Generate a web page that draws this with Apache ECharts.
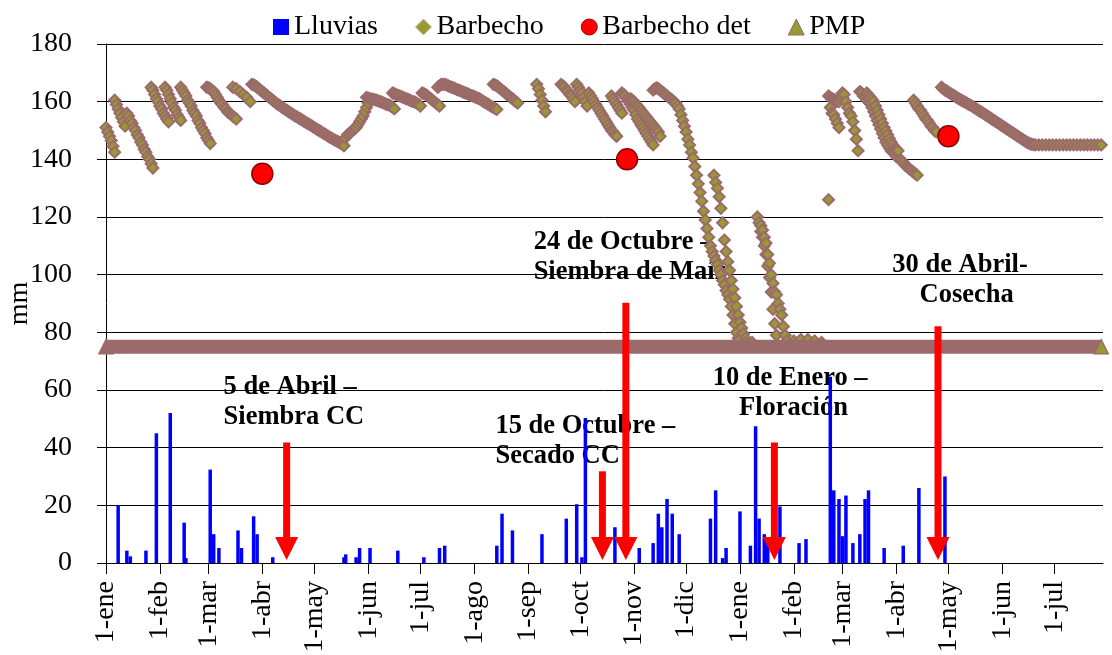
<!DOCTYPE html>
<html>
<head>
<meta charset="utf-8">
<title>Barbecho</title>
<script src="https://cdn.jsdelivr.net/npm/echarts@6/dist/echarts.min.js"></script>
<style>
  html, body { margin: 0; padding: 0; background: #fff; }
  #chart { width: 1112px; height: 655px; }
</style>
</head>
<body>
<div id="chart"></div>
<script>
// eje x: días contados desde el 1-ene del primer año (años no bisiestos)
const inicioMes = [0, 31, 59, 90, 120, 151, 181, 212, 243, 273, 304, 334, 365, 396, 424, 455, 485, 516, 546]
const etiquetaMes = ['1-ene', '1-feb', '1-mar', '1-abr', '1-may', '1-jun', '1-jul', '1-ago', '1-sep', '1-oct',
  '1-nov', '1-dic', '1-ene', '1-feb', '1-mar', '1-abr', '1-may', '1-jun', '1-jul']
const diaFinal = 574

// lluvias diarias [día, mm]
const lluvias = [
  [7, 20], [12, 4.3], [14, 2.3], [23, 4.3], [29, 45], [37, 52], [45, 14], [46, 1.7], [60, 32.4], [62, 10],
  [65, 5.2], [76, 11.3], [78, 5.2], [85, 16.2], [87, 10], [96, 2], [137, 2], [138, 3], [144, 2], [146, 5.2],
  [152, 5.2], [168, 4.3], [183, 2], [192, 5.2], [195, 6], [225, 6], [228, 17.1], [234, 11.3], [251, 10],
  [265, 15.4], [271, 20.4], [274, 2], [276, 50.3], [293, 12.4], [307, 5.2], [315, 6.9], [318, 17.1], [320, 12.4],
  [323, 22.2], [326, 17.1], [330, 10], [348, 15.4], [351, 25.2], [355, 1.7], [357, 5.2], [365, 17.9], [371, 6],
  [374, 47.4], [376, 15.4], [379, 10], [381, 7], [388, 19.6], [399, 6.9], [403, 8.3], [417, 64.6], [419, 25.2],
  [422, 22.2], [424, 9.3], [426, 23.4], [430, 6.9], [434, 10], [437, 22.2], [439, 25.2], [448, 5.2], [459, 6],
  [468, 26], [483, 30]
]

// agua en el perfil, barbecho, primer año [día, mm]
const barbechoAnio1 = [
  [0, 151], [1, 149.5], [2, 148], [3, 146.5], [4, 144.5], [5, 142.5],
  [5, 160.5], [6, 159], [7, 157.5], [8, 156], [9, 154.5], [10, 153], [11, 151.5],
  [12, 156], [13, 155], [14, 153.5], [15, 152.5], [16, 151], [17, 150], [18, 148.5], [19, 147.5], [20, 146],
  [21, 145], [22, 143.5], [23, 142.5], [24, 141], [25, 140], [26, 138.5], [27, 137],
  [26, 165], [27, 164], [28, 162.5], [29, 161], [30, 160], [31, 158.5], [32, 157.5], [33, 156], [34, 155], [35, 154], [36, 153],
  [34, 165], [35, 164], [36, 162.5], [37, 161], [38, 159.5], [39, 158], [40, 157], [41, 155.5], [42, 154.5], [43, 153.5],
  [43, 165], [44, 164], [45, 163], [46, 162], [47, 160.5], [48, 159.5], [49, 158.5], [50, 157], [51, 156], [52, 155],
  [53, 153.5], [54, 152.5], [55, 151], [56, 150], [57, 149], [58, 147.5], [59, 146.5], [60, 145.5],
  [58, 165], [59, 164.8], [60, 164.5], [61, 164], [62, 163.5], [63, 162.5], [64, 161.5], [65, 160.5], [66, 159.5],
  [67, 159], [68, 158], [69, 157.5], [70, 156.5], [71, 156], [72, 155.5], [73, 155], [74, 154.5], [75, 154],
  [73, 165], [75, 164.5], [77, 163.5], [79, 162.5], [81, 161.5], [83, 160],
  [84, 166], [85, 165.8], [86, 165.5], [87, 165], [88, 164.5], [89, 164], [90, 163.5], [91, 163], [92, 162.5],
  [93, 162], [94, 161.5], [95, 161], [96, 160.5], [97, 160], [98, 159.5], [99, 159], [100, 158.7], [101, 158.2],
  [102, 157.8], [103, 157.4], [104, 157], [105, 156.6], [106, 156.2], [107, 155.8], [108, 155.4], [109, 155],
  [110, 154.7], [111, 154.3], [112, 154], [113, 153.6], [114, 153.2], [115, 152.8], [116, 152.5], [117, 152.1],
  [118, 151.8], [119, 151.4], [120, 151], [121, 150.6], [122, 150.2], [123, 149.9], [124, 149.5], [125, 149.1],
  [126, 148.8], [127, 148.4], [128, 148], [129, 147.6], [130, 147.3], [131, 146.9], [132, 146.6], [133, 146.3],
  [134, 146], [135, 145.6], [136, 145.3], [137, 144.7],
  [138, 147.5], [139, 148.5], [140, 149], [141, 149.5], [142, 150], [143, 150.5], [144, 151], [145, 152], [146, 153],
  [147, 154], [148, 155], [149, 156.5], [150, 158], [151, 159.5],
  [150, 161.5], [151, 161.2], [152, 161], [153, 160.9], [154, 160.8], [155, 160.6], [156, 160.5], [157, 160.2],
  [158, 160], [159, 159.8], [160, 159.5], [161, 159.2], [162, 159], [163, 158.8], [164, 158.5], [165, 158], [166, 157.5],
  [165, 163], [166, 162.8], [167, 162.5], [168, 162.2], [169, 162], [170, 161.8], [171, 161.5], [172, 161.2],
  [173, 161], [174, 160.8], [175, 160.5], [176, 160.2], [177, 160], [178, 159.8], [179, 159.5], [180, 159], [181, 158.5],
  [182, 163], [183, 162.8], [184, 162.5], [185, 162], [186, 161.5], [187, 161], [188, 160.5], [189, 160], [190, 159.5],
  [191, 159], [192, 158.5],
  [191, 165], [192, 165.5], [193, 166], [194, 166], [195, 166], [196, 165.8], [197, 165.5], [198, 165.2], [199, 165],
  [200, 164.8], [201, 164.5], [202, 164.2], [203, 164], [204, 163.8], [205, 163.5], [206, 163.2], [207, 163],
  [208, 162.8], [209, 162.5], [210, 162.2], [211, 162], [212, 161.8], [213, 161.5], [214, 161.2], [215, 161],
  [216, 160.6], [217, 160.2], [218, 159.8], [219, 159.5], [220, 159.1], [221, 158.7], [222, 158.3], [223, 158],
  [224, 157.6], [225, 157.3],
  [223, 166], [224, 165.8], [225, 165.5], [226, 165], [227, 164.5], [228, 164], [229, 163.5], [230, 163],
  [231, 162.5], [232, 162], [233, 161.5], [234, 161], [235, 160.5], [236, 160], [237, 159.5],
  [248, 166], [249, 164.5], [250, 162.5], [251, 160.5], [252, 158.5], [253, 156.5],
  [262, 166], [263, 165.5], [264, 165], [265, 164], [266, 163.5], [267, 162.5], [268, 162], [269, 161], [270, 160],
  [271, 166], [272, 165], [273, 164], [274, 163], [275, 161.5], [276, 160], [277, 158.5],
  [278, 163], [279, 162], [280, 161], [281, 160], [282, 159], [283, 158], [284, 157], [285, 156], [286, 155],
  [287, 154], [288, 153], [289, 152], [290, 151], [291, 150], [292, 149.5], [293, 148.5], [294, 148],
  [291, 162], [292, 161], [293, 160], [294, 159], [295, 158], [296, 157], [297, 156],
  [297, 163], [298, 162.5], [299, 162], [300, 161], [301, 160], [302, 159], [303, 158], [304, 157], [305, 155.5],
  [306, 154], [307, 153], [308, 152], [309, 151], [310, 150], [311, 149], [312, 148], [313, 147], [314, 146], [315, 145],
  [302, 161], [303, 160.5], [304, 160], [305, 159.2], [306, 158.5], [307, 157.8], [308, 157], [309, 156.2],
  [310, 155.5], [311, 154.8], [312, 154], [313, 153.2], [314, 152.5], [315, 151.8], [316, 151], [317, 150.2],
  [318, 149.5], [319, 148]
]

// caída a PMP durante el cultivo y segundo año [día, mm]
const barbechoAnio2 = [
  [315, 164], [316, 164.5], [317, 164.8], [318, 164.5], [319, 164], [320, 163.5], [321, 163], [322, 162.5], [323, 162],
  [324, 161.5], [325, 161], [326, 160.5], [327, 160], [328, 159.5], [329, 158.5],
  [330, 157.5], [331, 155.5], [332, 153.5], [333, 151.5], [334, 149.5], [335, 147], [336, 145], [337, 142.5],
  [338, 140.5], [339, 137.5], [340, 134.5], [341, 131.5], [342, 128.5], [343, 125.5], [344, 122], [345, 119],
  [346, 116], [347, 113], [348, 110], [349, 108], [350, 106.5], [351, 105], [352, 103.5], [353, 101.5], [354, 100],
  [355, 98], [356, 96.5], [357, 94.5], [358, 93], [359, 91.5], [360, 89], [361, 86], [362, 83], [363, 80], [364, 78],
  [350, 134.5], [351, 132], [352, 130], [353, 127], [354, 123], [355, 118], [356, 112], [357, 108], [358, 104.5],
  [359, 101.5], [360, 98], [361, 95], [362, 92], [363, 89], [364, 86], [365, 83.5], [366, 81.5], [367, 79.5], [368, 78],
  [375, 120], [376, 118], [377, 115], [378, 113], [379, 110], [380, 107], [381, 103], [382, 99], [383, 94], [384, 88],
  [385, 83], [386, 79],
  [377, 117], [378, 115.5], [379, 113], [380, 111], [381, 107], [382, 104], [383, 100], [384, 97], [385, 94],
  [386, 93], [387, 90], [388, 88], [389, 86], [390, 82], [391, 79],
  [364, 77], [368, 76.5], [372, 76.5], [392, 77], [396, 77], [400, 77.5], [404, 77.5], [408, 77], [412, 76.5],
  [416, 126],
  [416, 162], [417, 161.5], [418, 161], [419, 160.8], [420, 160.5], [421, 160.2], [422, 160], [423, 160.8], [424, 161.5],
  [417, 158], [418, 156], [419, 155.5], [420, 154], [421, 152.5], [422, 151],
  [424, 163], [425, 162.5], [426, 160], [427, 158], [428, 156], [429, 155], [430, 153], [431, 150], [432, 147], [433, 143],
  [434, 163.5], [435, 163], [436, 162], [437, 161.5], [438, 160.5], [439, 160], [440, 159.5], [441, 158], [442, 156.5],
  [443, 155], [444, 153.5], [445, 152], [446, 150.5], [447, 149], [448, 147.5], [449, 146], [450, 145], [451, 144],
  [452, 143], [453, 142.5], [454, 142], [455, 141], [456, 140.5], [457, 140], [458, 139.5], [459, 139], [460, 138],
  [461, 137.5], [462, 137], [463, 136.5], [464, 136], [465, 135.5], [466, 135], [467, 134.5],
  [438, 163], [439, 162.2], [440, 161.5], [441, 160.8], [442, 160], [443, 158.5], [444, 157], [445, 155.5],
  [446, 154], [447, 152.5], [448, 151], [449, 149.8], [450, 148.5], [451, 147.2], [452, 146], [453, 145],
  [454, 144], [455, 143.5], [456, 143],
  [465, 160.5], [466, 159.5], [467, 158.5], [468, 157.5], [469, 157], [470, 156], [471, 155], [472, 154], [473, 153.5],
  [474, 152.5], [475, 151.5], [476, 151], [477, 150], [478, 149.5],
  [481, 165], [482, 164.5], [483, 164], [484, 163.7], [485, 163.3], [486, 162.9], [487, 162.5], [488, 162.2],
  [489, 161.8], [490, 161.4], [491, 161], [492, 160.7], [493, 160.3], [494, 160], [495, 159.7], [496, 159.3],
  [497, 159], [498, 158.7], [499, 158.3], [500, 157.9], [501, 157.5], [502, 157.1], [503, 156.7], [504, 156.4],
  [505, 156], [506, 155.6], [507, 155.2], [508, 154.8], [509, 154.4], [510, 154], [511, 153.6], [512, 153.2],
  [513, 152.8], [514, 152.4], [515, 152], [516, 151.6], [517, 151.2], [518, 150.8], [519, 150.4], [520, 150],
  [521, 149.6], [522, 149.2], [523, 148.8], [524, 148.4], [525, 148], [526, 147.6], [527, 147.2], [528, 146.8],
  [529, 146.4], [530, 146], [531, 145.7], [532, 145.4], [533, 145.2], [534, 145.1], [535, 145], [537, 145],
  [539, 145], [541, 145], [543, 145], [545, 145], [547, 145], [549, 145], [551, 145], [553, 145], [555, 145],
  [557, 145], [559, 145], [561, 145], [563, 145], [565, 145], [567, 145], [569, 145], [571, 145], [573, 145]
]

// determinaciones de agua a campo [día, mm]
const barbechoDet = [[90, 135], [300, 140], [485, 148]]

// punto de marchitez permanente, constante todo el período
const pmpMm = 75
const pmpDias = [0, 573]

// eventos de manejo: día, mm donde arranca la flecha
const eventoDia = [104, 285.8, 299.3, 384.8, 479]
const eventoTope = [41.8, 31.8, 90.3, 41.8, 82.1]
const notaTexto = [
  '5 de Abril –\nSiembra CC',
  '15 de Octubre –\nSecado CC',
  '24 de Octubre –\nSiembra de Maíz',
  '10 de Enero – \nFloración',
  '30 de Abril- \n Cosecha'
]
const notaDia = [67.7, 224.2, 246.2, 395.8, 493.6]
const notaMm = [55.8, 42.1, 105.9, 58.8, 98]
const notaAlinea = ['left', 'left', 'left', 'center', 'center']

const fuente = 'Liberation Serif'
const marron = '#9b6a6a'
const oliva = '#999933'

const chart = echarts.init(document.getElementById('chart'))

const pmpData = pmpDias.map((d, i) => ({
  value: [d, pmpMm],
  itemStyle: i === 0 ? { color: marron } : undefined
}))

const notas = notaTexto.map((t, i) => [notaDia[i], notaMm[i], i])
const flechas = eventoDia.map((d, i) => [d, eventoTope[i], 1])

chart.setOption({
  animation: false,
  backgroundColor: '#fff',
  textStyle: { fontFamily: fuente },
  legend: {
    left: 268,
    top: 8,
    itemWidth: 16,
    itemHeight: 16,
    itemGap: 37,
    selectedMode: false,
    textStyle: { fontFamily: fuente, fontSize: 28, color: '#000' },
    data: [
      { name: 'Lluvias', icon: 'rect' },
      { name: 'Barbecho', icon: 'diamond', itemStyle: { color: oliva, borderColor: '#c9b9a0', borderWidth: 1 } },
      { name: 'Barbecho det', icon: 'circle', itemStyle: { color: '#ff0000', borderColor: '#aa0000', borderWidth: 1 } },
      { name: 'PMP', icon: 'triangle', itemStyle: { color: oliva, borderColor: marron, borderWidth: 1 } }
    ]
  },
  grid: { left: 106, right: 9, top: 44, bottom: 92, containLabel: false, outerBoundsMode: 'none' },
  xAxis: {
    type: 'value',
    min: 0,
    max: diaFinal,
    splitLine: { show: false },
    axisLine: { lineStyle: { color: '#000', width: 1 } },
    axisTick: { customValues: inicioMes, length: 11, lineStyle: { color: '#000' } },
    axisLabel: {
      customValues: inicioMes,
      rotate: 90,
      margin: 18,
      fontFamily: fuente,
      fontSize: 28,
      color: '#000',
      formatter: v => etiquetaMes[inicioMes.indexOf(v)]
    }
  },
  yAxis: {
    type: 'value',
    min: 0,
    max: 180,
    interval: 20,
    name: 'mm',
    nameLocation: 'middle',
    nameRotate: 90,
    nameGap: 72,
    nameMoveOverlap: false,
    nameTextStyle: { fontFamily: fuente, fontSize: 28, color: '#000' },
    axisLine: { show: true, lineStyle: { color: '#000', width: 1 } },
    axisTick: { show: true, length: 9, lineStyle: { color: '#000' } },
    axisLabel: { margin: 34, fontFamily: fuente, fontSize: 28, color: '#000' },
    splitLine: { lineStyle: { color: '#000', width: 1 } }
  },
  series: [
    {
      name: 'notas',
      type: 'custom',
      z: -1,
      silent: true,
      encode: { x: 0, y: 1 },
      data: notas,
      renderItem: (params, api) => {
        const p = api.coord([api.value(0), api.value(1)])
        const i = api.value(2)
        return {
          type: 'text',
          x: p[0],
          y: p[1],
          style: {
            text: notaTexto[i],
            align: notaAlinea[i],
            verticalAlign: 'middle',
            fill: '#000',
            fontFamily: fuente,
            fontWeight: 'bold',
            fontSize: 26.5,
            lineHeight: 30
          }
        }
      }
    },
    {
      name: 'Lluvias',
      type: 'bar',
      data: lluvias,
      barWidth: 3.5,
      itemStyle: { color: '#0000ff' }
    },
    {
      name: 'Barbecho',
      type: 'scatter',
      data: barbechoAnio1.concat(barbechoAnio2),
      symbol: 'diamond',
      symbolSize: 11,
      itemStyle: { color: oliva, borderColor: marron, borderWidth: 2, opacity: 1 }
    },
    {
      name: 'Barbecho det',
      type: 'scatter',
      data: barbechoDet,
      symbol: 'circle',
      symbolSize: 21,
      itemStyle: { color: '#ff0000', borderColor: '#8b0000', borderWidth: 1.5, opacity: 1 }
    },
    {
      name: 'PMP',
      type: 'line',
      data: pmpData,
      symbol: 'triangle',
      symbolSize: 14,
      showAllSymbol: true,
      lineStyle: { color: marron, width: 14 },
      itemStyle: { color: oliva, borderColor: marron, borderWidth: 1.5 }
    },
    {
      name: 'eventos',
      type: 'custom',
      z: 10,
      silent: true,
      encode: { x: 0, y: [1, 2] },
      data: flechas,
      renderItem: (params, api) => {
        const tope = api.coord([api.value(0), api.value(1)])
        const punta = api.coord([api.value(0), api.value(2)])
        const altoCabeza = 23
        const anchoCabeza = 23
        const anchoAsta = 7
        return {
          type: 'group',
          children: [
            {
              type: 'rect',
              shape: {
                x: tope[0] - anchoAsta / 2,
                y: tope[1],
                width: anchoAsta,
                height: punta[1] - altoCabeza - tope[1] + 1
              },
              style: { fill: '#ff0000' }
            },
            {
              type: 'polygon',
              shape: {
                points: [
                  [punta[0] - anchoCabeza / 2, punta[1] - altoCabeza],
                  [punta[0] + anchoCabeza / 2, punta[1] - altoCabeza],
                  [punta[0], punta[1]]
                ]
              },
              style: { fill: '#ff0000' }
            }
          ]
        }
      }
    }
  ]
})
</script>
</body>
</html>
